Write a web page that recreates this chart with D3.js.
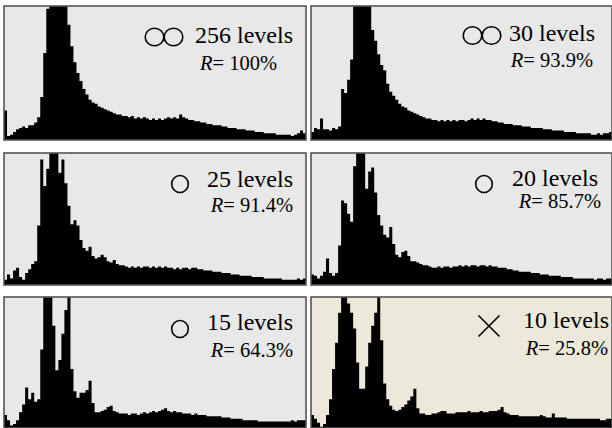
<!DOCTYPE html>
<html>
<head>
<meta charset="UTF-8">
<script src="https://cdn.jsdelivr.net/npm/d3@7/dist/d3.min.js"></script>
<style>
  svg text { font-family: "Liberation Serif", "Times New Roman", Tinos, serif !important; }
</style>
</head>
<body style="margin:0">
<script>
  // labels
  var levels = ["256 levels", "30 levels", "25 levels", "20 levels", "15 levels", "10 levels"];
  var ratios = ["100%", "93.9%", "91.4%", "85.7%", "64.3%", "25.8%"];
  var marks = ["OO", "OO", "O", "O", "O", "X"];

  // histogram heights, % of panel height (values > 100 are cut at the top)
  var h256 = [22, 3, 4, 6, 8, 9, 10, 9, 11, 11,
    13, 17, 32, 65, 98, 110, 110, 110, 110, 110,
    100, 86, 70, 58, 50, 44, 38, 34, 30, 28,
    27, 25, 24, 23, 22, 21, 20, 19, 19, 18,
    18, 17, 18, 16, 17, 16, 17, 16, 15, 16,
    15, 16, 15, 16, 17, 16, 17, 16, 19, 17,
    16, 15, 15, 14, 14, 13, 13, 12, 12, 11,
    11, 11, 10, 10, 9, 9, 9, 8, 8, 8,
    7, 7, 7, 6, 6, 6, 5, 5, 5, 5,
    4, 4, 4, 4, 4, 3, 4, 5, 7, 5];
  var h30 = [6, 9, 8, 16, 8, 8, 7, 9, 8, 10,
    38, 35, 45, 60, 100, 110, 110, 110, 110, 100,
    82, 74, 64, 56, 52, 42, 36, 33, 30, 27,
    25, 24, 22, 21, 20, 19, 18, 17, 16, 16,
    15, 15, 14, 15, 14, 15, 14, 15, 14, 15,
    15, 14, 15, 16, 15, 16, 15, 16, 15, 15,
    14, 14, 13, 13, 12, 12, 12, 11, 11, 11,
    10, 10, 10, 9, 9, 9, 9, 8, 8, 8,
    7, 7, 7, 7, 6, 6, 6, 6, 5, 5,
    5, 5, 5, 4, 4, 5, 4, 5, 5, 6];
  var h25 = [4, 8, 5, 11, 13, 6, 4, 9, 12, 16,
    18, 45, 95, 75, 88, 100, 110, 110, 85, 95,
    77, 60, 46, 49, 45, 34, 28, 26, 29, 22,
    20, 21, 23, 21, 18, 17, 19, 16, 15, 15,
    14, 13, 14, 13, 14, 13, 14, 14, 13, 14,
    13, 14, 13, 14, 13, 13, 12, 13, 12, 13,
    13, 12, 13, 13, 12, 12, 11, 11, 11, 10,
    10, 10, 9, 9, 9, 8, 8, 8, 7, 7,
    7, 7, 6, 6, 6, 6, 5, 5, 5, 5,
    5, 5, 4, 4, 4, 4, 4, 5, 4, 5];
  var h20 = [8, 7, 5, 7, 10, 20, 9, 7, 9, 30,
    64, 62, 54, 48, 90, 110, 110, 100, 73, 86,
    89, 70, 53, 45, 38, 36, 44, 31, 23, 21,
    25, 26, 22, 18, 18, 17, 16, 15, 15, 14,
    13, 13, 14, 13, 14, 14, 13, 14, 14, 15,
    14, 15, 14, 15, 15, 14, 15, 15, 14, 15,
    14, 14, 13, 13, 13, 12, 12, 11, 11, 10,
    10, 10, 10, 9, 9, 9, 8, 8, 8, 7,
    7, 7, 7, 6, 6, 6, 6, 5, 5, 5,
    5, 5, 5, 5, 4, 5, 5, 4, 5, 5];
  var h15 = [10, 6, 2, 3, 6, 12, 18, 31, 22, 27,
    20, 22, 60, 100, 110, 110, 78, 44, 52, 72,
    90, 100, 45, 28, 23, 27, 27, 29, 36, 19,
    12, 12, 13, 14, 16, 17, 13, 12, 11, 11,
    11, 10, 11, 11, 10, 11, 12, 11, 12, 13,
    12, 13, 14, 15, 13, 12, 13, 12, 12, 11,
    11, 11, 10, 11, 10, 10, 10, 9, 9, 9,
    9, 9, 8, 8, 8, 7, 7, 7, 7, 6,
    6, 6, 6, 6, 5, 5, 5, 5, 5, 5,
    5, 5, 5, 5, 5, 6, 5, 6, 6, 6];
  var h10 = [10, 7, 4, 1, 3, 10, 22, 45, 65, 88,
    110, 110, 95, 88, 76, 50, 30, 30, 47, 65,
    78, 88, 100, 67, 34, 22, 17, 14, 13, 14,
    16, 18, 21, 24, 30, 15, 11, 11, 10, 10,
    11, 11, 12, 13, 13, 11, 11, 11, 12, 12,
    12, 12, 13, 12, 12, 12, 13, 12, 12, 13,
    13, 13, 14, 16, 12, 11, 10, 10, 10, 9,
    9, 9, 9, 9, 9, 9, 10, 9, 8, 8,
    11, 8, 8, 8, 8, 7, 7, 7, 7, 7,
    7, 7, 7, 7, 7, 7, 6, 6, 7, 7];
  var hists = [h256, h30, h25, h20, h15, h10];

  var W = 612, H = 428;
  var svg = d3.select('body').append('svg').attr('width', W).attr('height', H);

  // panel boxes
  var colX = [4, 311], colW = [302, 301];
  var rowY = [6, 153, 297], rowH = [134, 132, 131];
  // text placement per panel
  var lab = [
    { x1: 293, y1: 43, x2: 277, y2: 70, mx: 164, my: 37 },
    { x1: 595, y1: 41, x2: 593, y2: 67, mx: 482, my: 35.5 },
    { x1: 293, y1: 187, x2: 293, y2: 212, mx: 180, my: 184 },
    { x1: 598, y1: 186, x2: 601, y2: 208, mx: 484, my: 184 },
    { x1: 293, y1: 330, x2: 293, y2: 357, mx: 180, my: 329 },
    { x1: 609, y1: 328, x2: 608, y2: 355, mx: 489, my: 326 }
  ];

  hists.forEach(function (data, k) {
    var c = k % 2, r = Math.floor(k / 2);
    var px = colX[c], py = rowY[r], pw = colW[c], ph = rowH[r];
    var g = svg.append('g').attr('transform', 'translate(' + px + ',' + py + ')');

    g.append('clipPath').attr('id', 'clip' + k)
      .append('rect').attr('width', pw).attr('height', ph);

    g.append('rect').attr('width', pw).attr('height', ph)
      .attr('fill', k == 5 ? '#ece8da' : '#e8e8e8');

    var x = d3.scaleLinear().domain([0, data.length]).range([0, pw]);
    var y = d3.scaleLinear().domain([0, 100]).range([ph, 0]).clamp(true);

    var pts = data.concat([data[data.length - 1]]);
    var area = d3.area()
      .x(function (d, i) { return x(i) })
      .y0(ph)
      .y1(function (d) { return y(d) })
      .curve(d3.curveStepAfter);
    g.append('path').datum(pts).attr('d', area)
      .attr('fill', '#000').attr('clip-path', 'url(#clip' + k + ')');

    g.append('rect').attr('width', pw).attr('height', ph)
      .attr('fill', 'none').attr('stroke', '#555').attr('stroke-width', 1.6);
  });

  // labels: one data join per line, like a plain text list
  svg.selectAll('text.lev').data(lab).enter().append('text')
    .attr('class', 'lev')
    .attr('x', function (d) { return d.x1 })
    .attr('y', function (d) { return d.y1 })
    .attr('text-anchor', 'end')
    .attr('font-size', 24)
    .attr('font-family', function () { return 'Times New Roman' })
    .text(function (d, i) { return levels[i] });

  var rt = svg.selectAll('text.rat').data(lab).enter().append('text')
    .attr('class', 'rat')
    .attr('x', function (d) { return d.x2 })
    .attr('y', function (d) { return d.y2 })
    .attr('text-anchor', 'end')
    .attr('font-size', 20.5)
    .attr('font-family', function () { return 'Times New Roman' });
  rt.append('tspan').attr('font-style', 'italic').text('R');
  rt.append('tspan').text(function (d, i) { return '= ' + ratios[i] });

  // mark symbols
  lab.forEach(function (L, k) {
    var m = marks[k];
    if (m == 'X') {
      var s = 10.5;
      svg.append('path')
        .attr('d', 'M' + (L.mx - s) + ',' + (L.my - s) + 'L' + (L.mx + s) + ',' + (L.my + s) +
          'M' + (L.mx + s) + ',' + (L.my - s) + 'L' + (L.mx - s) + ',' + (L.my + s))
        .attr('stroke', '#000').attr('stroke-width', 1.6).attr('fill', 'none');
    } else {
      var n = m.length;
      for (var j = 0; j < n; j++) {
        var cx = L.mx + (j - (n - 1) / 2) * 19;
        svg.append('ellipse').attr('cx', cx).attr('cy', L.my)
          .attr('rx', n == 2 ? 9.3 : 8.3).attr('ry', n == 2 ? 8.8 : 8.5)
          .attr('fill', 'none').attr('stroke', '#000').attr('stroke-width', 1.6);
      }
    }
  });
</script>
</body>
</html>
